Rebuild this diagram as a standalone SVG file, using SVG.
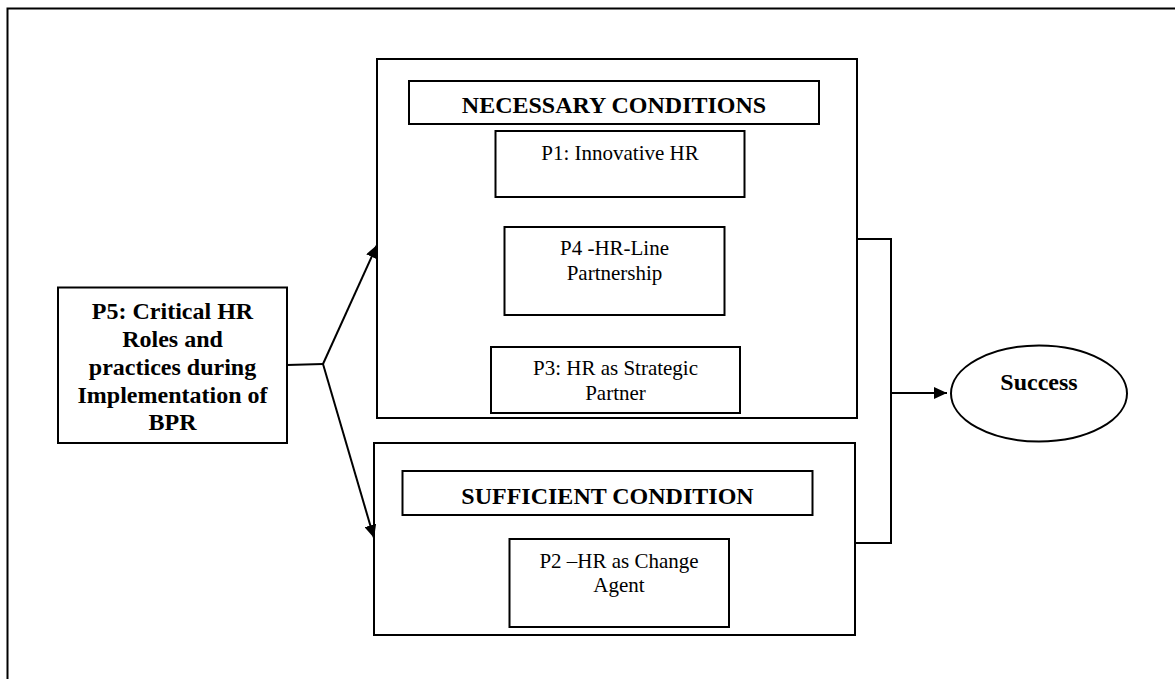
<svg xmlns="http://www.w3.org/2000/svg" width="1175" height="679" viewBox="0 0 1175 679">
<style>
.box{fill:#fff;stroke:#000;stroke-width:2}
.ln{fill:none;stroke:#000;stroke-width:2}
.t{font-family:"Liberation Serif","Times New Roman",serif;font-size:21px;text-anchor:middle;fill:#000}
.b{font-family:"Liberation Serif","Times New Roman",serif;font-size:24px;font-weight:bold;text-anchor:middle;fill:#000}
</style>
<defs>
<marker id="arr" markerUnits="userSpaceOnUse" markerWidth="14" markerHeight="12" refX="13" refY="6" orient="auto">
<path d="M0,0 L13,6 L0,12 Z" fill="#000"/>
</marker>
</defs>
<rect width="1175" height="679" fill="#fff"/>
<rect x="7.5" y="8.5" width="1190" height="700" fill="none" stroke="#000" stroke-width="2"/>
<g id="necessary">
<rect class="box" x="377" y="59" width="480" height="359"/>
<rect class="box" x="409" y="81" width="410" height="43"/>
<text class="b" x="614" y="113">NECESSARY CONDITIONS</text>
</g>
<g id="p1">
<rect class="box" x="495.5" y="131" width="249" height="66"/>
<text class="t" x="620" y="160">P1: Innovative HR</text>
</g>
<g id="p4">
<rect class="box" x="504.5" y="227" width="220" height="88"/>
<text class="t" x="614.5" y="255">P4 -HR-Line</text>
<text class="t" x="614.5" y="280">Partnership</text>
</g>
<g id="p3">
<rect class="box" x="491" y="347" width="249" height="66"/>
<text class="t" x="615.5" y="375">P3: HR as Strategic</text>
<text class="t" x="615.5" y="400">Partner</text>
</g>
<g id="sufficient">
<rect class="box" x="374" y="443" width="481" height="192"/>
<rect class="box" x="402.5" y="471" width="410" height="44"/>
<text class="b" x="607.5" y="504">SUFFICIENT CONDITION</text>
</g>
<g id="p2">
<rect class="box" x="509.5" y="539" width="219.5" height="88"/>
<text class="t" x="619" y="568">P2 –HR as Change</text>
<text class="t" x="619" y="592">Agent</text>
</g>
<g id="p5">
<rect class="box" x="58" y="287.5" width="229" height="155.5"/>
<text class="b" x="172.5" y="319">P5: Critical HR</text>
<text class="b" x="172.5" y="346.5">Roles and</text>
<text class="b" x="172.5" y="375">practices during</text>
<text class="b" x="172.5" y="402.5">Implementation of</text>
<text class="b" x="172.5" y="430">BPR</text>
</g>
<g id="success">
<ellipse class="box" cx="1039" cy="393.5" rx="88" ry="48"/>
<text class="b" x="1039" y="390">Success</text>
</g>
<g id="connectors">
<polyline class="ln" points="287,365 323,364"/>
<line class="ln" x1="323" y1="364" x2="377" y2="245" marker-end="url(#arr)"/>
<line class="ln" x1="323" y1="364" x2="374" y2="538" marker-end="url(#arr)"/>
<polyline class="ln" points="857,239 891,239 891,543 855,543"/>
<line class="ln" x1="891" y1="393" x2="947" y2="393" marker-end="url(#arr)"/>
</g>
</svg>
